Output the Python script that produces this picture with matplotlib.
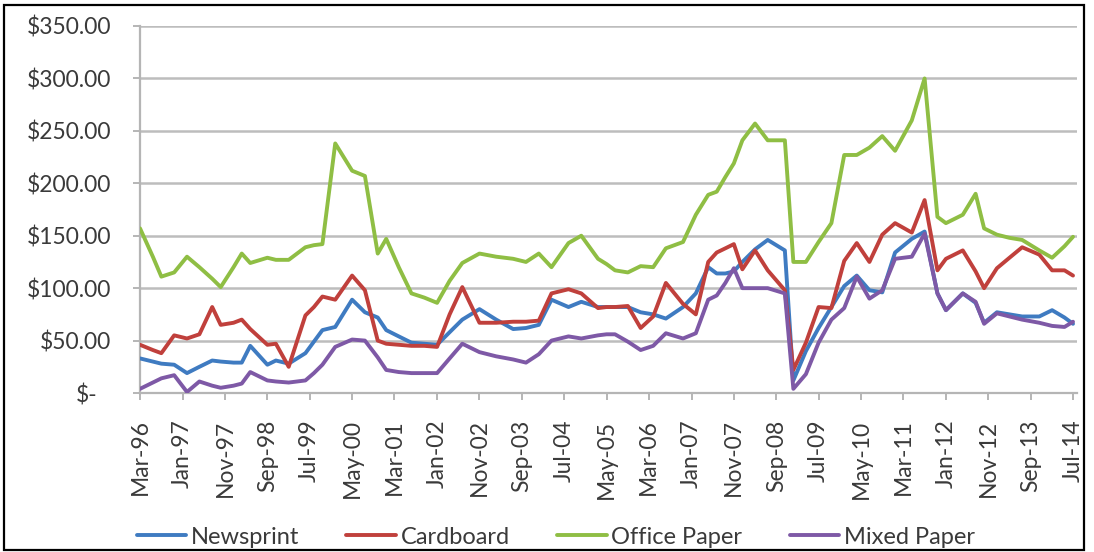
import matplotlib
matplotlib.use("Agg")
import matplotlib.pyplot as plt
import matplotlib.dates as mdates
from matplotlib.patches import Rectangle
from matplotlib.ticker import FuncFormatter, MultipleLocator
import pandas as pd

plt.rcParams['font.family'] = ['Lato', 'DejaVu Sans']

# Monthly price observations ($ per ton)
dates = [
    "1996-03", "1996-06", "1996-08", "1996-11", "1997-02", "1997-05", "1997-08", "1997-10",
    "1998-01", "1998-03", "1998-05", "1998-09", "1998-11", "1999-02", "1999-06", "1999-08",
    "1999-10", "2000-01", "2000-05", "2000-08", "2000-11", "2001-01", "2001-04", "2001-07",
    "2001-10", "2002-01", "2002-04", "2002-07", "2002-11", "2003-03", "2003-07", "2003-10",
    "2004-01", "2004-04", "2004-08", "2004-11", "2005-03", "2005-05", "2005-07", "2005-10",
    "2006-01", "2006-04", "2006-07", "2006-11", "2007-02", "2007-05", "2007-07", "2007-09",
    "2007-11", "2008-01", "2008-04", "2008-07", "2008-11", "2009-01", "2009-04", "2009-07",
    "2009-10", "2010-01", "2010-04", "2010-07", "2010-10", "2011-01", "2011-05", "2011-08",
    "2011-11", "2012-01", "2012-05", "2012-08", "2012-10", "2013-01", "2013-04", "2013-07",
    "2013-11", "2014-02", "2014-05", "2014-07",
]

newsprint = [
    33, 30, 28, 27, 19, 25, 31, 30,
    29, 29, 45, 27, 31, 28, 38, 49,
    60, 63, 89, 77, 72, 60, 54, 48,
    47, 46, 58, 70, 80, 70, 61, 62,
    65, 89, 82, 87, 82, 82, 82, 82,
    77, 75, 71, 82, 95, 120, 114, 114,
    116, 125, 137, 146, 136, 12, 40, 62,
    82, 102, 112, 98, 96, 134, 147, 154,
    95, 79, 95, 86, 67, 77, 75, 73,
    73, 79, 72, 66,
]

cardboard = [
    46, 41, 38, 55, 52, 56, 82, 65,
    67, 70, 61, 46, 47, 25, 74, 82,
    92, 89, 112, 98, 50, 47, 46, 45,
    45, 44, 75, 101, 67, 67, 68, 68,
    69, 95, 99, 95, 81, 82, 82, 83,
    62, 73, 105, 85, 75, 125, 134, 138,
    142, 118, 136, 117, 98, 22, 48, 82,
    81, 126, 143, 125, 151, 162, 153, 184,
    117, 128, 136, 116, 100, 119, 129, 139,
    132, 117, 117, 112,
]

office_paper = [
    157, 130, 111, 115, 130, 120, 109, 101,
    120, 133, 124, 129, 127, 127, 139, 141,
    142, 238, 212, 207, 133, 147, 120, 95,
    91, 86, 107, 124, 133, 130, 128, 125,
    133, 120, 143, 150, 128, 123, 117, 115,
    121, 120, 138, 144, 170, 189, 192, 206,
    219, 241, 257, 241, 241, 125, 125, 144,
    162, 227, 227, 234, 245, 231, 260, 300,
    168, 162, 170, 190, 157, 151, 148, 146,
    136, 129, 140, 149,
]

mixed_paper = [
    4, 10, 14, 17, 1, 11, 7, 5,
    7, 9, 20, 12, 11, 10, 12, 19,
    27, 44, 51, 50, 34, 22, 20, 19,
    19, 19, 33, 47, 39, 35, 32, 29,
    37, 50, 54, 52, 55, 56, 56, 49,
    41, 45, 57, 52, 57, 89, 93, 105,
    119, 100, 100, 100, 95, 4, 18, 48,
    70, 81, 111, 90, 98, 128, 130, 152,
    95, 79, 95, 87, 66, 76, 73, 70,
    67, 64, 63, 68,
]

series_names = ["Newsprint", "Cardboard", "Office Paper", "Mixed Paper"]
series_colors = ["#3F7BC1", "#C0403C", "#8FBE44", "#7E59A6"]

x = pd.to_datetime(dates, format="%Y-%m")
tick_dates = pd.date_range("1996-03-01", "2014-07-01", freq="10MS")

fig = plt.figure(figsize=(10.94, 5.52), dpi=100)
fig.patch.set_facecolor("white")
ax = fig.add_axes([0.128, 0.288, 0.9845 - 0.128, 0.9529 - 0.288])

for vals, name, color in zip([newsprint, cardboard, office_paper, mixed_paper],
                             series_names, series_colors):
    ax.plot(x, vals, color=color, lw=2.8, label=name, solid_joinstyle="round",
            solid_capstyle="round", zorder=3)

ax.set_ylim(0, 350)
ax.yaxis.set_major_locator(MultipleLocator(50))

label_color = "#3A3A3A"
ypad = 16
tick_len = 5


def money(v, pos):
    # zero is written separately, in accounting style
    if abs(v) < 1e-9:
        return ""
    return f"${v:,.2f}"


ax.yaxis.set_major_formatter(FuncFormatter(money))
ax.annotate("$-", xy=(0, 0), xycoords=("axes fraction", "data"),
            xytext=(-(tick_len + ypad + 9.5), 0), textcoords="offset points",
            ha="right", va="center_baseline", fontsize=16.5, color=label_color)

ax.grid(axis="y", color="#BDBDBD", lw=1.8, zorder=0)
ax.set_axisbelow(True)

ax.set_xlim(pd.Timestamp("1996-03-01"), pd.Timestamp("2014-07-30"))
ax.set_xticks(tick_dates)
ax.xaxis.set_major_formatter(mdates.DateFormatter("%b-%y"))

for side in ["top", "right"]:
    ax.spines[side].set_visible(False)
for side in ["left", "bottom"]:
    ax.spines[side].set_color("#B5B5B5")
    ax.spines[side].set_linewidth(1.6)

ax.tick_params(axis="y", length=tick_len, width=1.4, color="#B5B5B5", pad=ypad,
               labelsize=16.5, labelcolor=label_color)
ax.tick_params(axis="x", length=tick_len, width=1.4, color="#B5B5B5", pad=14,
               labelsize=16.5, labelcolor=label_color, labelrotation=90)

fig.legend(loc="center", bbox_to_anchor=(0.508, 0.027), ncol=4, frameon=False,
           fontsize=17, handlelength=2.1, handletextpad=0.2, columnspacing=2.0,
           labelcolor=label_color)

fig.patches.append(Rectangle((0.0037, 0.0036), 0.987, 0.987, transform=fig.transFigure,
                             fill=False, edgecolor="black", lw=1.6))

fig.savefig("out.png", dpi=100, facecolor="white")
